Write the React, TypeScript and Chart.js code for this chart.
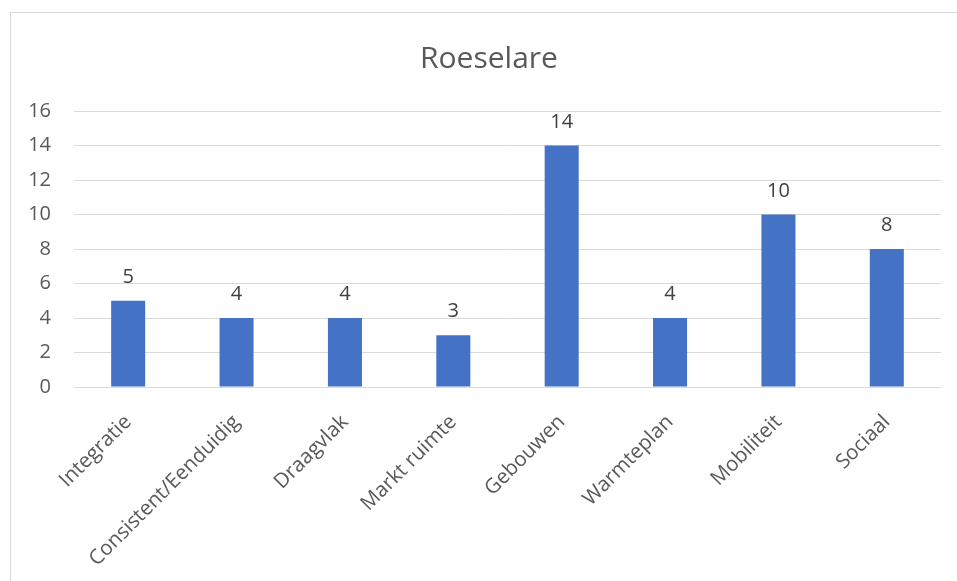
import React, { useEffect, useRef } from 'react';
import { Chart, registerables } from 'chart.js';

Chart.register(...registerables);

const TITLE = 'Roeselare';
const categories = [
  'Integratie',
  'Consistent/Eenduidig',
  'Draagvlak',
  'Markt ruimte',
  'Gebouwen',
  'Warmteplan',
  'Mobiliteit',
  'Sociaal',
];
const values = [5, 4, 4, 3, 14, 4, 10, 8];
const yMin = 0;
const yMax = 16;
const yStep = 2;

const FONT = "'Open Sans', 'Noto Sans', sans-serif";

const titlePlugin = {
  id: 'customTitle',
  afterDraw(chart: any) {
    const ctx = chart.ctx;
    ctx.save();
    ctx.font = `30px ${FONT}`;
    ctx.fillStyle = '#595959';
    ctx.textAlign = 'center';
    ctx.textBaseline = 'alphabetic';
    ctx.fillText(TITLE, 489, 68);
    ctx.restore();
  },
};

const dataLabelPlugin = {
  id: 'dataLabels',
  afterDatasetsDraw(chart: any) {
    const ctx = chart.ctx;
    const meta = chart.getDatasetMeta(0);
    ctx.save();
    ctx.font = `20px ${FONT}`;
    ctx.fillStyle = '#404040';
    ctx.textAlign = 'center';
    ctx.textBaseline = 'alphabetic';
    meta.data.forEach((el: any, i: number) => {
      ctx.fillText(String(values[i]), el.x, el.y - 18);
    });
    ctx.restore();
  },
};

export default function App() {
  const ref = useRef<HTMLCanvasElement | null>(null);

  useEffect(() => {
    document.body.style.margin = '0';
    document.body.style.overflow = 'hidden';
    if (!ref.current) return;
    const chart = new Chart(ref.current, {
      type: 'bar',
      data: {
        labels: categories,
        datasets: [
          {
            data: values,
            backgroundColor: '#4472C4',
            borderWidth: 0,
            categoryPercentage: 1,
            barPercentage: 0.314,
          },
        ],
      },
      options: {
        animation: false,
        responsive: false,
        maintainAspectRatio: false,
        layout: { padding: { top: 111, left: 0, right: 16, bottom: 0 } },
        plugins: {
          legend: { display: false },
          title: { display: false },
          tooltip: { enabled: false },
        },
        scales: {
          x: {
            grid: { display: false, drawTicks: false },
            border: { display: false },
            ticks: {
              autoSkip: false,
              maxRotation: 45,
              minRotation: 45,
              padding: 23,
              color: '#595959',
              font: { family: FONT, size: 20.5 },
            },
            afterFit(scale: any) {
              scale.height = 194;
            },
          },
          y: {
            min: yMin,
            max: yMax,
            grid: { color: '#d9d9d9', lineWidth: 1, drawTicks: false },
            border: { display: false },
            ticks: {
              stepSize: yStep,
              padding: 23,
              color: '#595959',
              font: { family: FONT, size: 20 },
            },
            afterFit(scale: any) {
              scale.width = 74;
            },
          },
        },
      },
      plugins: [titlePlugin, dataLabelPlugin],
    });
    return () => chart.destroy();
  }, []);

  return (
    <div style={{ position: 'relative', width: 957, height: 581, overflow: 'hidden', background: '#fff' }}>
      <div
        style={{
          position: 'absolute',
          left: 10,
          top: 12,
          width: 980,
          height: 620,
          border: '1px solid #d9d9d9',
          boxSizing: 'border-box',
        }}
      />
      <canvas ref={ref} width={957} height={581} style={{ position: 'absolute', left: 0, top: 0 }} />
    </div>
  );
}
